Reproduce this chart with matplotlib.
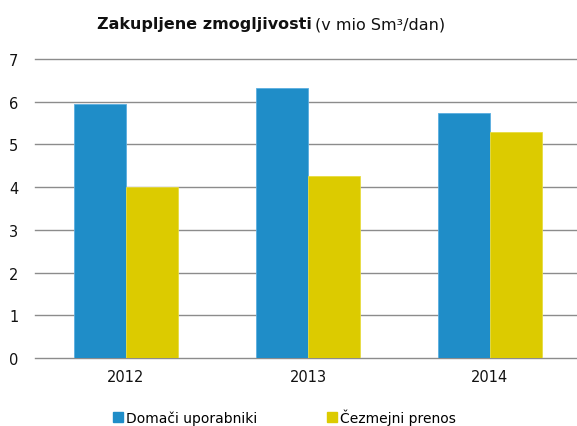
import numpy as np
import matplotlib
matplotlib.use("Agg")
import matplotlib.pyplot as plt
from matplotlib.patches import Patch

years = ["2012", "2013", "2014"]
domaci = [5.95, 6.31, 5.73]
cezmejni = [4.01, 4.26, 5.30]
series_names = ["Domači uporabniki", "Čezmejni prenos"]

blue = "#1f8dc8"
yellow = "#dccb00"

plt.rcParams["font.family"] = ["DejaVu Sans"]

fig = plt.figure(figsize=(5.77, 4.27), dpi=100)
ax = fig.add_axes([35 / 577, 1 - 359 / 427, 546 / 577, 299 / 427])

x = np.arange(len(years))
w = 0.286
ax.bar(x - w / 2, domaci, w, color=blue, edgecolor="#5aaee0", linewidth=0.6, zorder=3)
ax.bar(x + w / 2, cezmejni, w, color=yellow, edgecolor="#e8dc40", linewidth=0.6, zorder=3)

ax.set_xlim(-0.5, 2.5)
ax.set_ylim(0, 7)
ax.set_yticks(range(0, 8))
ax.set_xticks(x)
ax.set_xticklabels(years)
ax.tick_params(axis="both", length=0, labelsize=10.5, colors="#111111")
ax.tick_params(axis="y", pad=12)
ax.tick_params(axis="x", pad=8)
ax.yaxis.grid(True, color="#8c8c8c", linewidth=1.0, zorder=0)
for gl in ax.get_ygridlines():
    gl.set_clip_on(False)
for s in ax.spines.values():
    s.set_visible(False)

# title: bold part + normal part
fig.text(312 / 577, 1 - 25 / 427, "Zakupljene zmogljivosti", fontsize=11.5,
         fontweight="bold", ha="right", va="center", color="#111111")
fig.text(315 / 577, 1 - 25 / 427, "(v mio Sm³/dan)", fontsize=11.5,
         ha="left", va="center", color="#111111")

handles = [Patch(color=blue), Patch(color=yellow)]
fig.legend(handles, series_names, loc="center", bbox_to_anchor=(0.493, 1 - 418 / 427),
           ncol=2, frameon=False, fontsize=10, handlelength=0.75, handleheight=0.75,
           handletextpad=0.2, columnspacing=5.0, borderpad=0)

fig.savefig("out.png", dpi=100)
